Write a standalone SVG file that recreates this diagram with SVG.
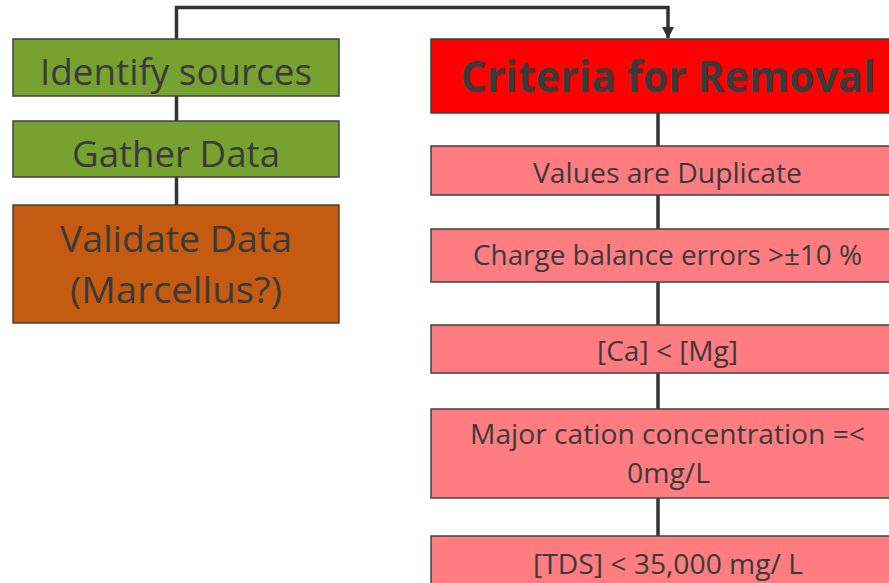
<svg xmlns="http://www.w3.org/2000/svg" width="889" height="583" viewBox="0 0 889 583">
<style>
.box{stroke:#404040;stroke-width:1.5}
.green{fill:#78A22F}
.orange{fill:#C55A11}
.red{fill:#FF0000}
.pink{fill:#FF7C80}
text{font-family:"Open Sans","Noto Sans",sans-serif;fill:#3A3A3A;text-anchor:middle}
.lg{font-size:37px}
.md{font-size:28px}
.bold{font-size:43px;font-weight:bold}
.conn{stroke:#333333;stroke-width:3.5;fill:none}
</style>
<defs>
<marker id="arr" markerWidth="12" markerHeight="12" refX="11" refY="6" orient="auto" markerUnits="userSpaceOnUse">
<path d="M0,0 L12,6 L0,12 Z" fill="#333333"/>
</marker>
</defs>
<rect width="889" height="583" fill="#FFFFFF"/>
<g id="connectors">
<path class="conn" d="M176.5,39 V7.5 H668 V38" marker-end="url(#arr)"/>
<line class="conn" x1="176.5" y1="96" x2="176.5" y2="121"/>
<line class="conn" x1="176.5" y1="177" x2="176.5" y2="205"/>
<line class="conn" x1="658" y1="113" x2="658" y2="146"/>
<line class="conn" x1="658" y1="195" x2="658" y2="229"/>
<line class="conn" x1="658" y1="282" x2="658" y2="325"/>
<line class="conn" x1="658" y1="373" x2="658" y2="409"/>
<line class="conn" x1="658" y1="498" x2="658" y2="536"/>
</g>
<g id="identify">
<rect class="box green" x="13" y="39" width="326" height="57"/>
<text class="lg" x="176" y="85" textLength="272" lengthAdjust="spacingAndGlyphs">Identify sources</text>
</g>
<g id="gather">
<rect class="box green" x="13" y="121" width="326" height="56"/>
<text class="lg" x="176" y="167" textLength="208" lengthAdjust="spacingAndGlyphs">Gather Data</text>
</g>
<g id="validate">
<rect class="box orange" x="13" y="205" width="326" height="118"/>
<text class="lg" x="176" y="252" textLength="232" lengthAdjust="spacingAndGlyphs">Validate Data</text>
<text class="lg" x="176" y="303" textLength="212" lengthAdjust="spacingAndGlyphs">(Marcellus?)</text>
</g>
<g id="criteria">
<rect class="box red" x="431" y="39" width="474" height="74"/>
<text class="bold" x="668" y="92" textLength="415" lengthAdjust="spacingAndGlyphs">Criteria for Removal</text>
</g>
<g id="duplicate">
<rect class="box pink" x="431" y="146" width="474" height="49"/>
<text class="md" x="667.5" y="183" textLength="269" lengthAdjust="spacingAndGlyphs">Values are Duplicate</text>
</g>
<g id="charge">
<rect class="box pink" x="431" y="229" width="474" height="53"/>
<text class="md" x="667.5" y="265" textLength="389" lengthAdjust="spacingAndGlyphs">Charge balance errors &gt;±10 %</text>
</g>
<g id="camg">
<rect class="box pink" x="431" y="325" width="474" height="48"/>
<text class="md" x="667.5" y="361" textLength="141" lengthAdjust="spacingAndGlyphs">[Ca] &lt; [Mg]</text>
</g>
<g id="cation">
<rect class="box pink" x="431" y="409" width="474" height="89"/>
<text class="md" x="667.5" y="444" textLength="395" lengthAdjust="spacingAndGlyphs">Major cation concentration =&lt;</text>
<text class="md" x="668.5" y="483" textLength="83" lengthAdjust="spacingAndGlyphs">0mg/L</text>
</g>
<g id="tds">
<rect class="box pink" x="431" y="536" width="474" height="60"/>
<text class="md" x="668" y="574" textLength="270" lengthAdjust="spacingAndGlyphs">[TDS] &lt; 35,000 mg/ L</text>
</g>
</svg>
